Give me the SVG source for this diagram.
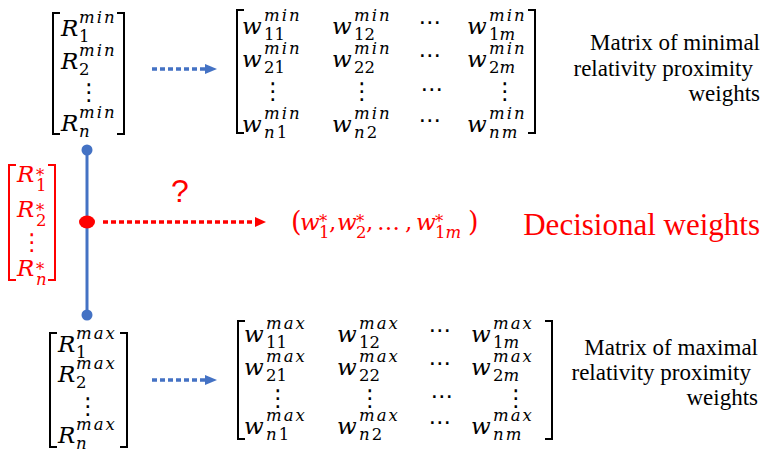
<svg xmlns="http://www.w3.org/2000/svg" width="762" height="454" viewBox="0 0 762 454">
<defs>
<style>
.m{font-family:"DejaVu Serif","DejaVu Sans",serif;font-style:italic;font-size:23px;fill:#000}
.s{font-size:16.5px;letter-spacing:2px}
.d{font-style:normal;letter-spacing:0}
.dots{font-family:"DejaVu Sans",sans-serif;font-style:normal;font-size:23px;text-anchor:middle}
.br{fill:none;stroke:#000;stroke-width:2}
.red{fill:#FF0000}
.brr{fill:none;stroke:#FF0000;stroke-width:2}
.lbl{font-family:"Liberation Serif","Times New Roman",serif;font-size:23px;fill:#000;text-anchor:end}
.dotb{fill:none;stroke:#4472C4;stroke-width:3.5;stroke-dasharray:5 3}
.dotr{fill:none;stroke:#FF0000;stroke-width:3.5;stroke-dasharray:5 3}
.par{font-style:normal;font-size:27px}
</style>
<marker id="ab" markerUnits="userSpaceOnUse" markerWidth="12" markerHeight="10" refX="0" refY="5" orient="auto"><path d="M0,0 L12,5 L0,10 Z" fill="#4472C4"/></marker>
<marker id="ar" markerUnits="userSpaceOnUse" markerWidth="11" markerHeight="10" refX="0" refY="5" orient="auto"><path d="M0,0 L11,5 L0,10 Z" fill="#FF0000"/></marker>
</defs>
<rect width="762" height="454" fill="#fff"/>

<g id="vec-min">
<path class="br" d="M60,13 H53 V134 H60 M117,13 H124 V134 H117"/>
<text class="m" x="61" y="36">R<tspan class="s" x="79" y="23">min</tspan><tspan class="s d" x="79" y="42">1</tspan></text>
<text class="m" x="61" y="69">R<tspan class="s" x="79" y="56">min</tspan><tspan class="s d" x="79" y="75">2</tspan></text>
<text class="m dots" x="89" y="100">⋮</text>
<text class="m" x="61" y="131">R<tspan class="s" x="79" y="118">min</tspan><tspan class="s" x="79" y="137">n</tspan></text>
</g>

<g id="mat-min">
<path class="br" d="M244,10 H237 V133 H244 M528,10 H535 V133 H528"/>
<text class="m" x="242" y="34">w<tspan class="s" x="264" y="21">min</tspan><tspan class="s d" x="264" y="40">11</tspan></text>
<text class="m" x="332" y="34">w<tspan class="s" x="354" y="21">min</tspan><tspan class="s d" x="354" y="40">12</tspan></text>
<text class="m dots" x="430" y="30">⋯</text>
<text class="m" x="467" y="34">w<tspan class="s" x="489" y="21">min</tspan><tspan class="s" x="489" y="40"><tspan class="d">1</tspan>m</tspan></text>

<text class="m" x="242" y="67">w<tspan class="s" x="264" y="54">min</tspan><tspan class="s d" x="264" y="73">21</tspan></text>
<text class="m" x="332" y="67">w<tspan class="s" x="354" y="54">min</tspan><tspan class="s d" x="354" y="73">22</tspan></text>
<text class="m dots" x="430" y="63">⋯</text>
<text class="m" x="467" y="67">w<tspan class="s" x="489" y="54">min</tspan><tspan class="s" x="489" y="73"><tspan class="d">2</tspan>m</tspan></text>

<text class="m dots" x="273" y="99">⋮</text>
<text class="m dots" x="362" y="99">⋮</text>
<text class="m dots" x="432" y="97">⋯</text>
<text class="m dots" x="505" y="99">⋮</text>

<text class="m" x="242" y="132">w<tspan class="s" x="264" y="119">min</tspan><tspan class="s" x="264" y="138">n<tspan class="d">1</tspan></tspan></text>
<text class="m" x="332" y="132">w<tspan class="s" x="354" y="119">min</tspan><tspan class="s" x="354" y="138">n<tspan class="d">2</tspan></tspan></text>
<text class="m dots" x="430" y="128">⋯</text>
<text class="m" x="467" y="132">w<tspan class="s" x="489" y="119">min</tspan><tspan class="s" x="489" y="138">nm</tspan></text>
</g>

<g id="label-min">
<text class="lbl" x="760" y="50">Matrix of minimal</text>
<text class="lbl" x="753" y="76">relativity proximity</text>
<text class="lbl" x="760" y="101">weights</text>
</g>

<g id="vec-star">
<path class="brr" d="M16,165 H9 V280 H16 M48,165 H55 V280 H48"/>
<text class="m red" x="17" y="182">R<tspan class="s" x="36" y="181">*</tspan><tspan class="s d" x="36" y="191">1</tspan></text>
<text class="m red" x="17" y="217">R<tspan class="s" x="36" y="216">*</tspan><tspan class="s d" x="36" y="226">2</tspan></text>
<text class="m dots red" x="32" y="250">⋮</text>
<text class="m red" x="17" y="276">R<tspan class="s" x="36" y="275">*</tspan><tspan class="s" x="36" y="285">n</tspan></text>
</g>

<g id="question">
<text x="180" y="202" font-family="Liberation Sans, Arial, sans-serif" font-size="32" fill="#FF0000" text-anchor="middle">?</text>
</g>

<g id="result">
<text class="m red par" x="291" y="231">(</text>
<text class="m red" x="300" y="230">w<tspan class="s" x="319" y="227">*</tspan><tspan class="s d" x="319" y="238">1</tspan></text>
<text class="m red" x="329" y="230"><tspan font-style="normal">,</tspan></text>
<text class="m red" x="337" y="230">w<tspan class="s" x="356" y="227">*</tspan><tspan class="s d" x="356" y="238">2</tspan></text>
<text class="m red" x="366" y="230"><tspan font-style="normal">,</tspan></text>
<text class="m red" x="377" y="230"><tspan font-style="normal">…</tspan></text>
<text class="m red" x="405" y="230"><tspan font-style="normal">,</tspan></text>
<text class="m red" x="416" y="230">w<tspan class="s" x="435" y="227">*</tspan><tspan class="s" x="435" y="238"><tspan class="d">1</tspan>m</tspan></text>
<text class="m red par" x="468" y="231">)</text>
</g>

<g id="label-decisional">
<text x="760" y="235" font-family="Liberation Serif, Times New Roman, serif" font-size="31" fill="#FF0000" text-anchor="end">Decisional weights</text>
</g>

<g id="vec-max">
<path class="br" d="M57,333 H50 V447 H57 M120,333 H127 V447 H120"/>
<text class="m" x="58" y="352">R<tspan class="s" x="76" y="339">max</tspan><tspan class="s d" x="76" y="358">1</tspan></text>
<text class="m" x="58" y="382">R<tspan class="s" x="76" y="369">max</tspan><tspan class="s d" x="76" y="388">2</tspan></text>
<text class="m dots" x="88" y="414">⋮</text>
<text class="m" x="58" y="443">R<tspan class="s" x="76" y="430">max</tspan><tspan class="s" x="76" y="449">n</tspan></text>
</g>

<g id="mat-max">
<path class="br" d="M245,321 H238 V439 H245 M545,321 H552 V439 H545"/>
<text class="m" x="244" y="342">w<tspan class="s" x="266" y="329">max</tspan><tspan class="s d" x="266" y="348">11</tspan></text>
<text class="m" x="337" y="342">w<tspan class="s" x="359" y="329">max</tspan><tspan class="s d" x="359" y="348">12</tspan></text>
<text class="m dots" x="440" y="338">⋯</text>
<text class="m" x="471" y="342">w<tspan class="s" x="493" y="329">max</tspan><tspan class="s" x="493" y="348"><tspan class="d">1</tspan>m</tspan></text>

<text class="m" x="244" y="375">w<tspan class="s" x="266" y="362">max</tspan><tspan class="s d" x="266" y="381">21</tspan></text>
<text class="m" x="337" y="375">w<tspan class="s" x="359" y="362">max</tspan><tspan class="s d" x="359" y="381">22</tspan></text>
<text class="m dots" x="440" y="371">⋯</text>
<text class="m" x="471" y="375">w<tspan class="s" x="493" y="362">max</tspan><tspan class="s" x="493" y="381"><tspan class="d">2</tspan>m</tspan></text>

<text class="m dots" x="278" y="406">⋮</text>
<text class="m dots" x="370" y="406">⋮</text>
<text class="m dots" x="442" y="404">⋯</text>
<text class="m dots" x="516" y="406">⋮</text>

<text class="m" x="244" y="434">w<tspan class="s" x="266" y="421">max</tspan><tspan class="s" x="266" y="440">n<tspan class="d">1</tspan></tspan></text>
<text class="m" x="337" y="434">w<tspan class="s" x="359" y="421">max</tspan><tspan class="s" x="359" y="440">n<tspan class="d">2</tspan></tspan></text>
<text class="m dots" x="440" y="430">⋯</text>
<text class="m" x="471" y="434">w<tspan class="s" x="493" y="421">max</tspan><tspan class="s" x="493" y="440">nm</tspan></text>
</g>

<g id="label-max">
<text class="lbl" x="758" y="355">Matrix of maximal</text>
<text class="lbl" x="751" y="380">relativity proximity</text>
<text class="lbl" x="758" y="405">weights</text>
</g>

<g id="connectors">
<line x1="87" y1="150" x2="87" y2="315" stroke="#4472C4" stroke-width="3"/>
<circle cx="87" cy="150" r="5.5" fill="#4472C4"/>
<circle cx="87" cy="315" r="5.5" fill="#4472C4"/>
<ellipse cx="87" cy="222" rx="8" ry="6.5" fill="#FF0000"/>
<line class="dotb" x1="152" y1="69" x2="205" y2="69" marker-end="url(#ab)"/>
<line class="dotb" x1="152" y1="380" x2="205" y2="380" marker-end="url(#ab)"/>
<line class="dotr" x1="103" y1="222" x2="255" y2="222" marker-end="url(#ar)"/>
</g>
</svg>
